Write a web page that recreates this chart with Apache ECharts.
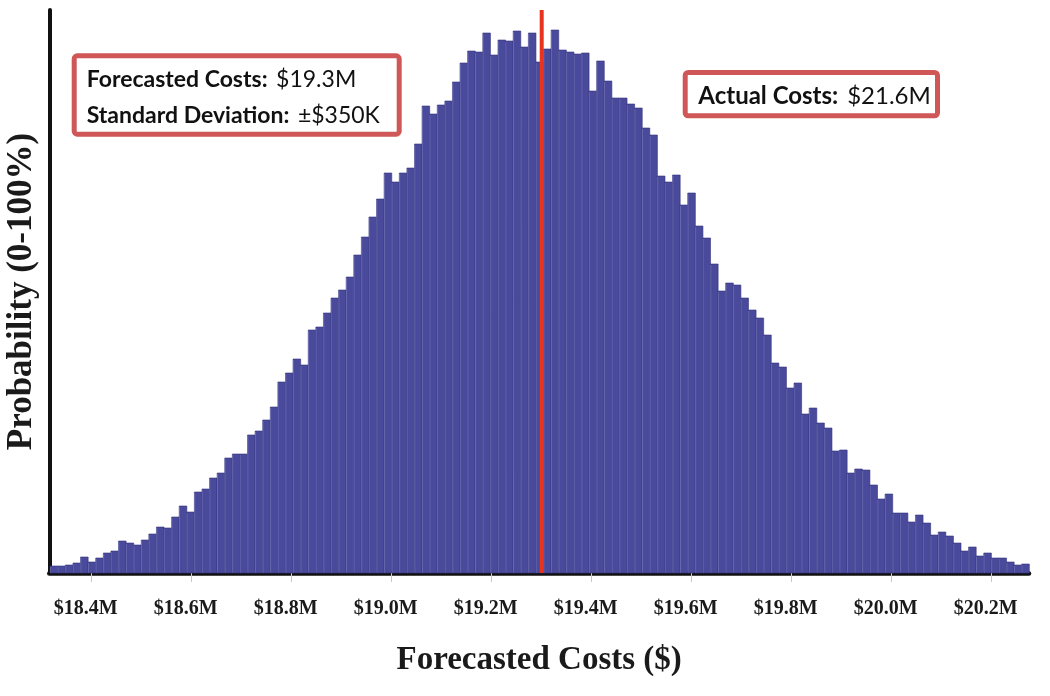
<!DOCTYPE html>
<html>
<head>
<meta charset="utf-8">
<script src="https://cdn.jsdelivr.net/npm/echarts@6/dist/echarts.min.js"></script>
<style>html,body{margin:0;padding:0;background:#fff;}#chart{width:1050px;height:696px;}</style>
</head>
<body>
<div id="chart"></div>
<script>
// Histogram bins (in $M)
const binStart = 18.317;
const binWidth = 0.01518;
const counts = [7,7,8,10,16,11,15,20,22,32,30,28,33,39,46,45,56,67,61,81,84,95,100,115,119,119,138,142,153,166,
  191,200,214,208,243,246,260,275,283,296,318,336,356,374,400,391,400,405,429,467,459,468,472,491,510,522,521,540,518,533,
  532,542,526,540,511,524,543,523,521,519,520,482,512,492,475,475,469,465,445,438,397,391,398,368,380,347,335,309,282,290,
  288,275,263,255,238,210,206,185,190,159,165,150,145,122,123,100,104,103,88,74,79,60,60,51,58,50,38,41,37,30,22,26,17,20,
  15,15,11,8,9];
const tickValues = [18.4,18.6,18.8,19.0,19.2,19.4,19.6,19.8,20.0,20.2];
const tickLabels = ['$18.4M','$18.6M','$18.8M','$19.0M','$19.2M','$19.4M','$19.6M','$19.8M','$20.0M','$20.2M'];
const forecastValue = 19.3;
const xName = 'Forecasted Costs ($)';
const yName = 'Probability (0-100%)';
const box1Lines = [['Forecasted Costs:', '$19.3M'], ['Standard Deviation:', '±$350K']];
const box2Line = ['Actual Costs:', '$21.6M'];

const yMax = 563;
const histData = counts.map((c, i) => [binStart + i * binWidth, c]);

const chart = echarts.init(document.getElementById('chart'), null, {renderer: 'canvas'});
const serif = 'Liberation Serif';
const sans = 'Lato';
function makeRich(size) {
  return {
    b: {fontFamily: sans, fontWeight: 'bold', fontSize: size, fill: '#111', color: '#111'},
    r: {fontFamily: sans, fontWeight: 'normal', fontSize: size, fill: '#111', color: '#111'},
    s: {fontFamily: sans, fontSize: size * 0.45}
  };
}
function richText(pair) { return '{b|' + pair[0] + '}{s| }{r| ' + pair[1] + '}'; }

chart.setOption({
  backgroundColor: '#ffffff',
  animation: false,
  grid: {left: 49.3, right: 21, top: 10, bottom: 123, containLabel: false, outerBoundsMode: 'none'},
  xAxis: {
    type: 'value', min: 18.3152, max: 20.2746,
    splitLine: {show: false},
    axisLine: {show: true, onZero: false, lineStyle: {color: '#111', width: 4.5}},
    axisTick: {show: true, customValues: tickValues, length: 9, lineStyle: {color: '#c8c8c8', width: 1}},
    axisLabel: {
      customValues: tickValues,
      formatter: v => { const i = tickValues.findIndex(t => Math.abs(t - v) < 1e-6); return i >= 0 ? tickLabels[i] : ''; },
      fontFamily: serif, fontWeight: 'bold', fontSize: 20, color: '#1a1a1a', margin: 26, padding: [0, 12, 0, 0]
    },
    name: xName, nameLocation: 'middle', nameGap: 71,
    nameTextStyle: {fontFamily: serif, fontWeight: 'bold', fontSize: 33, color: '#1a1a1a'}
  },
  yAxis: {
    type: 'value', min: 0, max: yMax,
    splitLine: {show: false},
    axisTick: {show: false}, axisLabel: {show: false},
    axisLine: {show: true, lineStyle: {color: '#111', width: 4}},
    name: yName, nameLocation: 'middle', nameGap: 10, nameRotate: 90,
    nameTextStyle: {fontFamily: serif, fontWeight: 'bold', fontSize: 35, color: '#1a1a1a'}
  },
  series: [
    {
      type: 'custom',
      data: histData,
      renderItem: function (params, api) {
        const x0 = api.value(0), y = api.value(1);
        const p0 = api.coord([x0, y]);
        const p1 = api.coord([x0 + binWidth, 0]);
        return {
          type: 'group',
          children: [
            {type: 'rect', shape: {x: p0[0], y: p0[1], width: p1[0] - p0[0], height: p1[1] - p0[1]},
             style: {fill: '#4a4a9c', stroke: '#33337c', lineWidth: 0.6}},
            {type: 'line', shape: {x1: p0[0] + 0.3, y1: p0[1] + 1, x2: p0[0] + 0.3, y2: p1[1]},
             style: {stroke: 'rgba(150,150,210,0.5)', lineWidth: 0.8}}
          ]
        };
      }
    },
    {
      type: 'line',
      data: [[forecastValue, 0], [forecastValue, yMax]],
      showSymbol: false, symbol: 'none',
      lineStyle: {color: '#e8331f', width: 4},
      z: 5
    }
  ],
  graphic: [
    {type: 'rect', shape: {x: 74.2, y: 55.8, width: 325, height: 78.4, r: 3},
     style: {fill: '#fff', stroke: '#d05757', lineWidth: 5}, z: 10},
    {type: 'text', x: 86.7, y: 80, z: 11,
     style: {text: richText(box1Lines[0]), rich: makeRich(23), verticalAlign: 'middle', align: 'left'}},
    {type: 'text', x: 86.7, y: 115.5, z: 11,
     style: {text: richText(box1Lines[1]), rich: makeRich(23), verticalAlign: 'middle', align: 'left'}},
    {type: 'rect', shape: {x: 685.2, y: 72.5, width: 252.3, height: 43.3, r: 3},
     style: {fill: '#fff', stroke: '#d05757', lineWidth: 5}, z: 10},
    {type: 'text', x: 698.3, y: 96, z: 11,
     style: {text: richText(box2Line), rich: makeRich(24), verticalAlign: 'middle', align: 'left'}}
  ]
});
</script>
</body>
</html>
